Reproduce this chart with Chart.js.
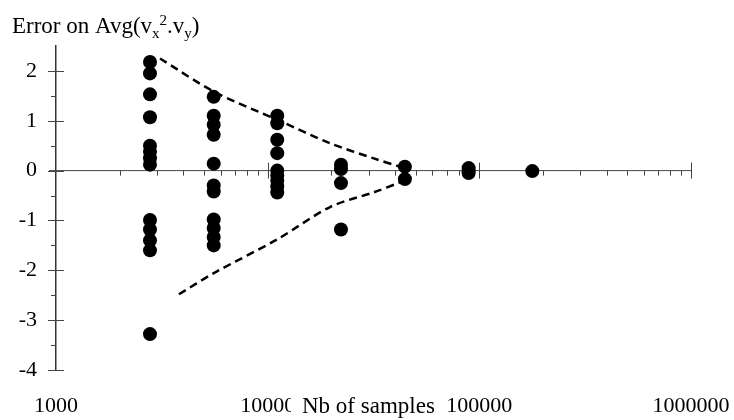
<!DOCTYPE html>
<html>
<head>
<meta charset="utf-8">
<script src="https://cdn.jsdelivr.net/npm/chart.js@4.4.1/dist/chart.umd.min.js"></script>
<style>
  html, body { margin: 0; padding: 0; background: #fff; }
</style>
</head>
<body>
<canvas id="chart" width="734" height="420"></canvas>
<script>
// number of samples for each column of runs
const sampleSizes = [2780, 5560, 11100, 22200, 44500, 89000, 178000];

// error values read per column
const errors1 = [2.18, 1.95, 1.53, 1.07, 0.5, 0.38, 0.25, 0.12, -0.99, -1.18, -1.4, -1.6, -3.28];
const errors2 = [1.48, 1.1, 0.92, 0.72, 0.14, -0.3, -0.42, -0.98, -1.15, -1.33, -1.5];
const errors3 = [1.1, 0.95, 0.62, 0.35, 0.0, -0.1, -0.2, -0.32, -0.44];
const errors4 = [0.12, 0.03, -0.25, -1.18];
const errors5 = [0.08, -0.17];
const errors6 = [0.05, 0.0, -0.05];
const errors7 = [-0.01];

// dashed envelope
const upperX = [3100, 5600, 11100, 19700, 32000, 42000];
const upperY = [2.25, 1.58, 1.02, 0.55, 0.24, 0.08];
const lowerX = [3810, 5600, 11100, 19700, 32000, 42000];
const lowerY = [-2.48, -2.05, -1.38, -0.73, -0.43, -0.24];

const xTicks = [1000, 10000, 100000, 1000000];
const yTicks = [-4, -3, -2, -1, 0, 1, 2];
const yMinorTicks = [-3.5, -2.5, -1.5, -0.5, 0.5, 1.5];

const allErrors = [errors1, errors2, errors3, errors4, errors5, errors6, errors7];
const scatterPoints = [];
allErrors.forEach((col, i) => {
  col.forEach(v => scatterPoints.push({ x: sampleSizes[i], y: v }));
});

const toXY = (xs, ys) => xs.map((x, i) => ({ x: x, y: ys[i] }));

Chart.defaults.font.family = "'Liberation Serif', 'DejaVu Serif', serif";
Chart.defaults.color = "#000";

// zero line, tick marks and the two titles
const axesPlugin = {
  id: "axesPlugin",
  beforeDatasetsDraw(chart) {
    const ctx = chart.ctx;
    const xs = chart.scales.x;
    const ys = chart.scales.y;
    const y0 = ys.getPixelForValue(0);
    const xl = xs.getPixelForValue(1000);
    const xr = xs.getPixelForValue(1000000);
    ctx.save();
    ctx.strokeStyle = "#444";
    ctx.lineWidth = 1;
    ctx.beginPath();
    ctx.moveTo(xl - 7, y0);
    ctx.lineTo(xr, y0);
    // minor ticks, below the line
    [1000, 10000, 100000].forEach(d => {
      for (let m = 2; m <= 9; m++) {
        const px = Math.round(xs.getPixelForValue(d * m)) + 0.5;
        ctx.moveTo(px, y0);
        ctx.lineTo(px, y0 + 5);
      }
    });
    // decade ticks crossing the line
    [10000, 100000, 1000000].forEach(d => {
      const px = Math.round(xs.getPixelForValue(d)) + 0.5;
      ctx.moveTo(px, y0 - 8);
      ctx.lineTo(px, y0 + 8);
    });
    // y ticks
    const ax = chart.chartArea.left;
    yTicks.forEach(v => {
      const py = Math.round(ys.getPixelForValue(v)) + 0.5;
      ctx.moveTo(ax - 8, py);
      ctx.lineTo(ax + 8, py);
    });
    yMinorTicks.forEach(v => {
      const py = Math.round(ys.getPixelForValue(v)) + 0.5;
      ctx.moveTo(ax - 5, py);
      ctx.lineTo(ax, py);
    });
    ctx.stroke();
    ctx.restore();
  },
  afterDraw(chart) {
    const ctx = chart.ctx;
    ctx.save();
    ctx.fillStyle = "#000";
    ctx.textBaseline = "alphabetic";
    const big = "23px 'Liberation Serif'";
    const small = "15px 'Liberation Serif'";
    // y axis title: Error on Avg(vx^2.vy)
    let x = 12;
    const base = 33;
    const parts = [
      ["Error on Avg(v", big, 0],
      ["x", small, 5],
      ["2", small, -8],
      [".v", big, 0],
      ["y", small, 5],
      [")", big, 0]
    ];
    parts.forEach(p => {
      ctx.font = p[1];
      ctx.fillText(p[0], x, base + p[2]);
      x += ctx.measureText(p[0]).width;
    });
    // x axis title with its white box over the 10000 label
    ctx.fillStyle = "#fff";
    ctx.fillRect(291, 386, 150, 34);
    ctx.fillStyle = "#000";
    ctx.font = big;
    ctx.fillText("Nb of samples", 302, 413);
    ctx.restore();
  }
};

new Chart(document.getElementById("chart"), {
  type: "scatter",
  data: {
    datasets: [
      {
        data: toXY(upperX, upperY),
        showLine: true,
        borderColor: "#000",
        borderWidth: 2.5,
        borderDash: [8, 5],
        tension: 0.3,
        pointRadius: 0
      },
      {
        data: toXY(lowerX, lowerY),
        showLine: true,
        borderColor: "#000",
        borderWidth: 2.5,
        borderDash: [8, 5],
        tension: 0.3,
        pointRadius: 0
      },
      {
        data: scatterPoints,
        backgroundColor: "#000",
        borderWidth: 0,
        pointRadius: 7,
        pointHoverRadius: 7
      }
    ]
  },
  options: {
    responsive: false,
    animation: false,
    events: [],
    layout: { padding: { left: 19, right: 43, top: 46, bottom: 0 } },
    plugins: { legend: { display: false }, tooltip: { enabled: false } },
    scales: {
      x: {
        type: "logarithmic",
        min: 1000,
        max: 1000000,
        grid: { display: false, drawTicks: false },
        border: { display: false },
        afterBuildTicks: s => { s.ticks = xTicks.map(v => ({ value: v })); },
        afterFit: s => { s.height = 50; s.paddingLeft = 0; s.paddingRight = 0; },
        ticks: {
          autoSkip: false,
          maxRotation: 0,
          padding: 23,
          font: { size: 22 },
          callback: v => String(v)
        }
      },
      y: {
        min: -4,
        max: 2.5,
        grid: { display: false, drawTicks: false },
        border: { display: true, color: "#333", width: 1.5 },
        afterBuildTicks: s => { s.ticks = yTicks.map(v => ({ value: v })); },
        afterFit: s => { s.width = 37; s.paddingTop = 0; s.paddingBottom = 0; },
        ticks: {
          padding: 19,
          font: { size: 22 },
          callback: v => String(v)
        }
      }
    }
  },
  plugins: [axesPlugin]
});
</script>
</body>
</html>
